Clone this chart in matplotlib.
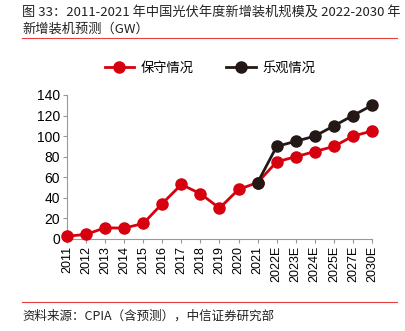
import matplotlib
matplotlib.use("Agg")
import matplotlib.pyplot as plt
from matplotlib.lines import Line2D

plt.rcParams['font.family'] = ['Noto Sans CJK SC', 'DejaVu Sans']

years = ["2011", "2012", "2013", "2014", "2015", "2016", "2017", "2018", "2019", "2020",
         "2021", "2022E", "2023E", "2024E", "2025E", "2027E", "2030E"]
conservative = [2.7, 4.5, 10.9, 10.6, 15.1, 34.5, 53, 44, 30, 48.2, 54.9, 75, 80, 85, 90, 100, 105]
optimistic_years = ["2021", "2022E", "2023E", "2024E", "2025E", "2027E", "2030E"]
optimistic = [54.9, 90, 95, 100, 110, 120, 130]
yticks = [0, 20, 40, 60, 80, 100, 120, 140]

red = "#D7000F"
dark = "#231815"
W, H = 406, 331
fig = plt.figure(figsize=(W / 100, H / 100), dpi=100)

ax = fig.add_axes([67 / W, 1 - 239 / H, (372 - 67) / W, (239 - 95) / H])
x = list(range(len(years)))
xo = [years.index(y) for y in optimistic_years]
ax.plot(x, conservative, color=red, lw=2.0, marker='o', ms=8, zorder=3, clip_on=False)
ax.plot(xo, optimistic, color=dark, lw=2.0, marker='o', ms=8, zorder=4, clip_on=False)

ax.set_xlim(0, len(years) - 1)
ax.set_ylim(0, 140)
ax.set_yticks(yticks)
ax.set_xticks(x)
ax.set_xticklabels(years, rotation=90, fontsize=9, family=['Liberation Sans', 'DejaVu Sans'])
for lab in ax.get_yticklabels():
    lab.set_fontsize(10)
    lab.set_family(['Liberation Sans', 'DejaVu Sans'])
for s in ['top', 'right']:
    ax.spines[s].set_visible(False)
for s in ['left', 'bottom']:
    ax.spines[s].set_color('#999999')
    ax.spines[s].set_linewidth(0.8)
ax.tick_params(axis='both', colors='#999999', labelcolor='black', length=3, width=0.8, pad=2)

handles = [Line2D([], [], color=red, lw=2.0, marker='o', ms=8),
           Line2D([], [], color=dark, lw=2.0, marker='o', ms=8)]
fig.legend(handles, ["保守情况", "乐观情况"], loc='center', bbox_to_anchor=(210 / W, 1 - 68 / H),
           ncol=2, frameon=False, fontsize=9.5, handlelength=2.2, columnspacing=2.5, handletextpad=0.5)

fig.text(22 / W, 1 - 12 / H, "图 33：2011-2021 年中国光伏年度新增装机规模及 2022-2030 年", fontsize=9.5,
         va='center', ha='left', color='#222222')
fig.text(22 / W, 1 - 29 / H, "新增装机预测（GW）", fontsize=9.5, va='center', ha='left', color='#222222')
fig.add_artist(Line2D([22 / W, 397 / W], [1 - 38 / H, 1 - 38 / H], color='#E8403F', lw=0.8))
fig.add_artist(Line2D([22 / W, 397 / W], [1 - 302 / H, 1 - 302 / H], color='#E8403F', lw=0.8))
fig.text(22 / W, 1 - 316 / H, "资料来源：CPIA（含预测），中信证券研究部", fontsize=9,
         va='center', ha='left', color='#222222')

fig.savefig("out.png", dpi=100)
